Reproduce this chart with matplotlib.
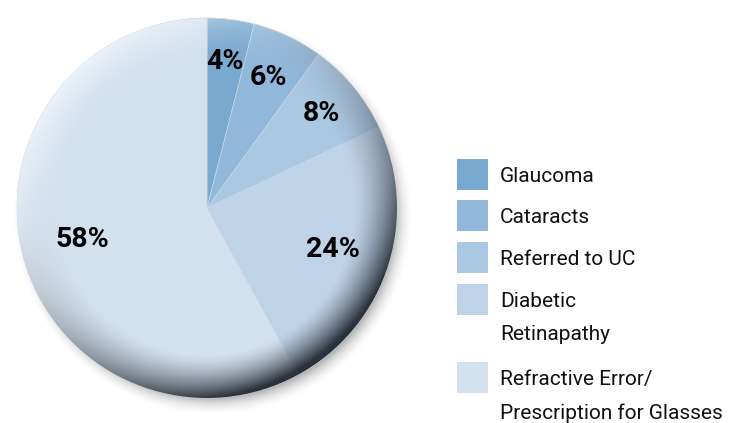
import numpy as np
import matplotlib
matplotlib.use('Agg')
import matplotlib.pyplot as plt
from matplotlib.patches import Circle, Rectangle

# data
labels = ['Glaucoma', 'Cataracts', 'Referred to UC', 'Diabetic\nRetinapathy',
          'Refractive Error/\nPrescription for Glasses']
shares = [4, 6, 8, 24, 58]
colors = ['#7aa9d0', '#91b8da', '#abc8e2', '#bfd3e8', '#d3e0ee']

plt.rcParams['font.family'] = ['Roboto', 'DejaVu Sans']

W, H = 745, 423
fig = plt.figure(figsize=(W / 100, H / 100), dpi=100)

# pie axes: centre (207, 208) px, radius 190 px
cx, cy, R, half = 207, 208, 190, 205
ax = fig.add_axes([(cx - half) / W, (H - cy - half) / H, 2 * half / W, 2 * half / H])
lim = half / R
ax.set_aspect('equal')
ax.axis('off')

# soft drop shadow
n = 500
g = np.linspace(-lim, lim, n)
X, Y = np.meshgrid(g, g[::-1])
rs = np.hypot(X - 0.03, Y + 0.04)
sh = np.clip((1.06 - rs) / 0.1, 0, 1) ** 2 * 0.45
shadow = np.zeros((n, n, 4))
shadow[..., :3] = 0.35
shadow[..., 3] = sh
ax.imshow(shadow, extent=(-lim, lim, -lim, lim), zorder=0)

wedges, texts, autotexts = ax.pie(
    shares, colors=colors, startangle=90, counterclock=False, radius=1,
    autopct='%d%%', pctdistance=0.76,
    wedgeprops=dict(edgecolor='#cad7e5', linewidth=0.5, zorder=1),
    textprops=dict(fontsize=20.5, fontweight='bold', color='black'))
ax.set_xlim(-lim, lim)
ax.set_ylim(-lim, lim)

# pull the bigger labels a bit toward the centre
for t, f in zip(autotexts, [1.02, 1.0, 1.03, 0.92, 0.89]):
    x, y = t.get_position()
    t.set_position((x * f, y * f))
    t.set_zorder(5)

# rim shading: dark toward the lower right, light toward the upper left
r = np.hypot(X, Y)
th = np.arctan2(Y, X)
edge = np.clip((r - 0.77) / 0.23, 0, 1) ** 1.5
dark_w = ((1 + np.cos(th - np.radians(-55))) / 2) ** 2
light_w = ((1 + np.cos(th - np.radians(140))) / 2) ** 3
shade = np.zeros((n, n, 4))
shade[..., 0] = 0.14
shade[..., 1] = 0.16
shade[..., 2] = 0.19
shade[..., 3] = np.clip(edge * dark_w * 1.1, 0, 0.95)
im = ax.imshow(shade, extent=(-lim, lim, -lim, lim), zorder=3)
im.set_clip_path(Circle((0, 0), 1, transform=ax.transData))

hl = np.ones((n, n, 4))
hl[..., 3] = np.clip(edge * light_w * 0.6, 0, 0.6)
im2 = ax.imshow(hl, extent=(-lim, lim, -lim, lim), zorder=3)
im2.set_clip_path(Circle((0, 0), 1, transform=ax.transData))

# legend drawn by hand in pixel coordinates
lax = fig.add_axes([0, 0, 1, 1], zorder=10)
lax.set_xlim(0, W)
lax.set_ylim(H, 0)
lax.axis('off')
row_y = [175, 216, 258, 300, 378]
for lab, col, yc in zip(labels, colors, row_y):
    lax.add_patch(Rectangle((457, yc - 15.5), 31, 31, facecolor=col, edgecolor='none'))
    lax.text(500, yc - 8, lab, fontsize=15, va='top', ha='left',
             color='#111111', linespacing=1.92)

fig.savefig('out.png', dpi=100)
